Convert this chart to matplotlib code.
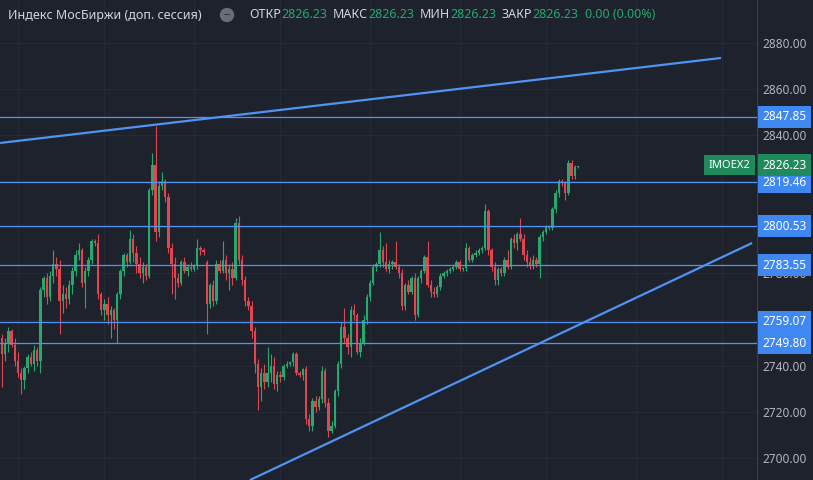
import matplotlib
matplotlib.use('Agg')
import matplotlib.pyplot as plt
import numpy as np

# OHLC values (one candle per bar, oldest first)
opens = [2752, 2745, 2750, 2755, 2749, 2742, 2737, 2734, 2739, 2744,
         2741, 2747, 2742, 2773, 2778, 2770, 2779, 2784, 2782, 2768,
         2771, 2769, 2775, 2781, 2788, 2790, 2776, 2781, 2786, 2794,
         2793, 2771, 2764, 2767, 2762, 2764, 2760, 2771, 2781, 2788,
         2785, 2795, 2789, 2784, 2780, 2783, 2779, 2816, 2827, 2798,
         2818, 2820, 2813, 2791, 2784, 2778, 2776, 2785, 2781, 2783,
         2782, 2783.5, 2791, 2790, 2785, 2767, 2775, 2768, 2784, 2781,
         2786, 2780, 2782, 2778, 2802, 2786, 2777, 2768, 2766, 2755,
         2741, 2731, 2737, 2733, 2737, 2740, 2732, 2736, 2735, 2740,
         2741, 2741.5, 2745, 2737, 2736, 2738.5, 2717, 2714, 2725, 2722,
         2725.5, 2738, 2724, 2712, 2714, 2729, 2741, 2757, 2752, 2748,
         2764, 2762, 2746, 2750, 2760, 2770, 2776, 2783, 2784, 2790,
         2785, 2782, 2784, 2785, 2783, 2780, 2766, 2775, 2772, 2778,
         2762, 2778, 2781, 2787, 2775, 2772, 2771, 2774, 2779, 2780,
         2781, 2782, 2783, 2785, 2782, 2782.5, 2791, 2786, 2788, 2789,
         2790, 2791, 2807, 2790, 2783, 2777, 2782, 2780, 2786, 2783,
         2795, 2793, 2797, 2795, 2788, 2785, 2783.5, 2786, 2784, 2796,
         2798, 2800, 2799.5, 2808, 2815, 2820, 2819.5, 2815, 2828, 2822,
         2826]
highs = [2754, 2752, 2757, 2756, 2752, 2746, 2739, 2740, 2745, 2746,
         2749, 2748, 2774, 2779, 2780, 2781, 2790, 2787, 2786, 2775,
         2774, 2777, 2783, 2790, 2793, 2791, 2783, 2787, 2795, 2795,
         2797, 2772, 2769, 2770, 2766, 2765, 2772, 2782, 2789, 2789,
         2799, 2797, 2792, 2787, 2785, 2784, 2817, 2832, 2844, 2820,
         2824, 2821, 2815, 2793, 2787, 2780, 2786, 2787, 2784, 2785,
         2784, 2795, 2792, 2791, 2786, 2776, 2777, 2786, 2786, 2794,
         2788, 2784, 2785, 2804, 2805, 2788, 2779, 2770, 2768, 2757,
         2743, 2739, 2741, 2748, 2745, 2744, 2738, 2738, 2741, 2742,
         2742, 2746, 2746, 2738, 2739, 2740, 2719, 2726, 2727, 2727,
         2740, 2739, 2726, 2716, 2730, 2742, 2759, 2765, 2754, 2766,
         2767, 2763, 2752, 2762, 2771, 2777, 2784, 2785, 2798, 2792,
         2793, 2786, 2786, 2794, 2784, 2782, 2776, 2777, 2779, 2780,
         2779, 2782, 2788, 2794, 2777, 2774, 2775, 2780, 2781, 2782,
         2783, 2784, 2786, 2786, 2783, 2793, 2792, 2789, 2790, 2791,
         2792, 2810, 2808, 2791, 2785, 2783, 2783, 2787, 2790, 2796,
         2797, 2798, 2804, 2797, 2790, 2787, 2788, 2787, 2797, 2799,
         2801, 2801, 2809, 2816, 2821, 2821, 2820, 2829, 2829, 2827,
         2826.5]
lows = [2731, 2742, 2746, 2748, 2740, 2735, 2728, 2730, 2737, 2740,
        2738, 2740, 2737, 2770, 2767, 2768, 2776, 2779, 2754, 2763,
        2765, 2767, 2771, 2779, 2786, 2774, 2765, 2779, 2784, 2792,
        2769, 2762, 2760, 2758, 2752, 2756, 2750, 2769, 2779, 2783,
        2784, 2785, 2780, 2778, 2776, 2777, 2778, 2814, 2794, 2796,
        2816, 2811, 2789, 2771, 2769, 2774, 2775, 2780, 2779, 2781,
        2781, 2782, 2788, 2788, 2754, 2765, 2766, 2767, 2780, 2780,
        2777, 2773, 2775, 2777, 2784, 2775, 2766, 2764, 2752, 2737,
        2721, 2725, 2730, 2731, 2733, 2730, 2729, 2733, 2734, 2739,
        2740, 2740, 2736, 2735, 2734, 2715, 2712, 2712, 2720, 2721,
        2724, 2722, 2709, 2711, 2713, 2727, 2739, 2750, 2745, 2744,
        2760, 2745, 2744, 2749, 2758, 2768, 2775, 2781, 2783, 2783,
        2781, 2780, 2782, 2782, 2778, 2764, 2764, 2771, 2771, 2760,
        2761, 2776, 2780, 2774, 2770, 2770, 2770, 2773, 2778, 2779,
        2780, 2781, 2782, 2781, 2781, 2781, 2785, 2785, 2787, 2788,
        2789, 2790, 2788, 2781, 2775, 2775, 2779, 2779, 2782, 2782,
        2791, 2790, 2794, 2786, 2783, 2782, 2782, 2783, 2778, 2794,
        2797, 2799, 2799, 2806, 2813, 2818, 2812, 2814, 2821, 2821,
        2825.8]
closes = [2745, 2750, 2755, 2749, 2742, 2737, 2734, 2739, 2744, 2741,
          2747, 2742, 2773, 2778, 2770, 2779, 2784, 2782, 2768, 2771,
          2769, 2775, 2781, 2788, 2790, 2776, 2781, 2786, 2794, 2793,
          2771, 2764, 2767, 2762, 2764, 2760, 2771, 2781, 2788, 2785,
          2795, 2789, 2784, 2780, 2783, 2779, 2816, 2827, 2798, 2818,
          2820, 2813, 2791, 2784, 2778, 2776, 2785, 2781, 2783, 2782,
          2783.5, 2791, 2790, 2789.5, 2767, 2775, 2768, 2784, 2781, 2786,
          2780, 2782, 2778, 2802, 2786, 2777, 2768, 2766, 2755, 2741,
          2731, 2737, 2733, 2737, 2740, 2732, 2736, 2735, 2740, 2741,
          2741.5, 2745, 2737, 2736, 2738.5, 2717, 2714, 2725, 2722, 2725.5,
          2738, 2724, 2712, 2714, 2729, 2741, 2757, 2752, 2748, 2764,
          2762, 2746, 2750, 2760, 2770, 2776, 2783, 2784, 2790, 2785,
          2782, 2784, 2785, 2783, 2780, 2766, 2775, 2772, 2778, 2762,
          2778, 2781, 2787, 2775, 2772, 2771, 2774, 2779, 2780, 2781,
          2782, 2783, 2785, 2782, 2782.5, 2791, 2786, 2788, 2789, 2790,
          2791, 2807, 2790, 2783, 2777, 2782, 2780, 2786, 2783, 2795,
          2793, 2797, 2795, 2788, 2785, 2783.5, 2786, 2784, 2796, 2798,
          2800, 2799.5, 2808, 2815, 2820, 2819.5, 2815, 2828, 2822, 2826,
          2826.23]

# horizontal levels drawn by the author
levels = [2847.85, 2819.46, 2800.53, 2783.55, 2759.07, 2749.80]
# trend lines: (bar index, price) start and end
upper_trend = [(-0.6, 2836.5), (224.7, 2873.3)]
lower_trend = [(77.5, 2690.6), (234.4, 2793.2)]

price_ticks = [2700, 2720, 2740, 2760, 2780, 2800, 2820, 2840, 2860, 2880]
# tick labels that sit fully under a level label are left blank
hidden_ticks = [2760, 2800, 2820]
time_grid = [5, 32, 60, 87, 115, 143, 170, 198, 225]
last_price = 2826.23

BG = '#1e222d'
GRID = '#262a35'
UP = '#26a96c'
DOWN = '#e0464f'
LINE = '#5093f2'
LABEL_BLUE = '#3f88f2'
LABEL_GREEN = '#1f8a5b'
TXT = '#b2b5be'

plt.rcParams['font.family'] = ['Noto Sans', 'DejaVu Sans']

fig = plt.figure(figsize=(8.13, 4.80), dpi=100, facecolor=BG)
ax = fig.add_axes([0, 0, 757 / 813, 1])
ax.set_facecolor(BG)

o = np.array(opens, dtype=float)
h = np.array(highs, dtype=float)
l = np.array(lows, dtype=float)
c = np.array(closes, dtype=float)
x = np.arange(len(c))
colors = np.where(c >= o, UP, DOWN)

# candles: wicks then bodies
ax.vlines(x, l, h, colors=colors, linewidth=0.8, zorder=3)
body = np.maximum(np.abs(c - o), 0.5)
ax.bar(x, body, bottom=np.minimum(o, c), width=0.78, color=colors, linewidth=0, zorder=3)

# grid
for p in price_ticks:
    ax.axhline(p, color=GRID, linewidth=0.8, zorder=0)
for t in time_grid:
    ax.axvline(t, color=GRID, linewidth=0.8, zorder=0)

# levels and trend lines
for lv in levels:
    ax.axhline(lv, color=LINE, linewidth=0.9, zorder=4)
for tr in (upper_trend, lower_trend):
    ax.plot([tr[0][0], tr[1][0]], [tr[0][1], tr[1][1]], color=LINE, linewidth=1.6,
            solid_capstyle='butt', zorder=4)

ax.set_xlim(-0.625, 235.94)
ax.set_ylim(2690.6, 2898.4)

ax.set_xticks([])
ax.yaxis.tick_right()
ax.set_yticks(price_ticks)
ax.set_yticklabels(['' if p in hidden_ticks else '%.2f' % p for p in price_ticks])
ax.tick_params(axis='y', length=0, pad=4, labelsize=8.5, labelcolor=TXT)
for side in ['top', 'left', 'bottom']:
    ax.spines[side].set_visible(False)
ax.spines['right'].set_color('#3a3e4a')
ax.spines['right'].set_linewidth(0.8)

# price labels on the axis
for lv in levels:
    ax.annotate('%.2f' % lv, xy=(1.0, lv), xycoords=('axes fraction', 'data'),
                xytext=(4, 0), textcoords='offset points', ha='left', va='center',
                fontsize=8.5, color='white', annotation_clip=False, zorder=6,
                bbox=dict(boxstyle='square,pad=0.38', fc=LABEL_BLUE, ec='none'))
ax.annotate('%.2f' % last_price, xy=(1.0, last_price), xycoords=('axes fraction', 'data'),
            xytext=(4, 1), textcoords='offset points', ha='left', va='center',
            fontsize=8.5, color='white', annotation_clip=False, zorder=7,
            bbox=dict(boxstyle='square,pad=0.38', fc=LABEL_GREEN, ec='none'))
ax.annotate('IMOEX2', xy=(1.0, last_price), xycoords=('axes fraction', 'data'),
            xytext=(-5, 1), textcoords='offset points', ha='right', va='center',
            fontsize=8, color='white', annotation_clip=False, zorder=7,
            bbox=dict(boxstyle='square,pad=0.4', fc=LABEL_GREEN, ec='none'))

# header
ty = 1 - 15 / 480
fig.text(8 / 813, ty, 'Индекс МосБиржи (доп. сессия)', color='#d1d4dc', fontsize=9, va='center')
fig.text(227 / 813, ty, '−', color=BG, fontsize=8, weight='bold', ha='center', va='center',
         bbox=dict(boxstyle='circle,pad=0.15', fc='#6a6d78', ec='none'))
header = [(249, 'ОТКР', '#d1d4dc'), (281, '2826.23', UP),
          (333, 'МАКС', '#d1d4dc'), (368, '2826.23', UP),
          (420, 'МИН', '#d1d4dc'), (450, '2826.23', UP),
          (502, 'ЗАКР', '#d1d4dc'), (532, '2826.23', UP),
          (585, '0.00 (0.00%)', UP)]
for px, s, col in header:
    fig.text(px / 813, ty, s, color=col, fontsize=9, va='center')

fig.savefig('out.png', dpi=100, facecolor=BG)
